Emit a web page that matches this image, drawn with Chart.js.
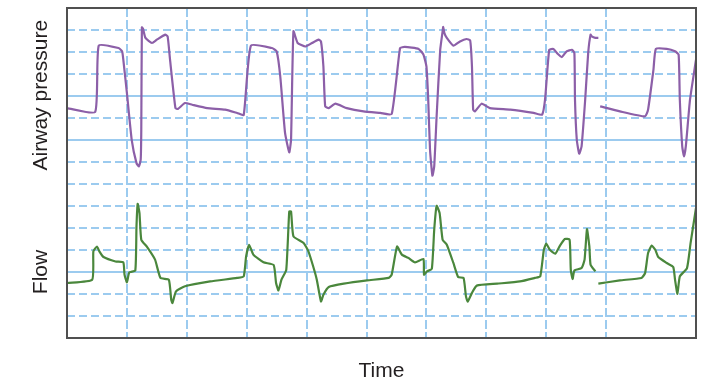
<!DOCTYPE html>
<html>
<head>
<meta charset="utf-8">
<script src="https://cdn.jsdelivr.net/npm/chart.js@4/dist/chart.umd.min.js"></script>
<style>
body{margin:0;background:#fff}
#wrap{width:714px;height:387px}
</style>
</head>
<body>
<div id="wrap"><canvas id="myChart" width="714" height="387"></canvas></div>
<script>
'use strict'
// time in grid divisions, signal in grid divisions (no units on the original)
let pressureTime=[0,0.47,0.53,0.86,0.92,0.94,1.00,1.08,1.16,1.20,1.23,1.24,1.25,1.27,1.31,1.42,1.50,1.64,1.68,1.72,1.81,1.85,1.97,2.09,2.34,2.64,2.84,2.95,
  3.07,3.42,3.50,3.56,3.64,3.71,3.74,3.78,3.85,3.98,4.09,4.20,4.24,4.28,4.31,4.37,4.48,4.67,4.95,5.23,5.42,
  5.56,5.64,5.87,5.95,6.00,6.03,6.06,6.10,6.13,6.17,6.23,6.27,6.28,6.30,6.34,6.45,6.56,6.67,6.73,6.76,6.78,6.81,6.92,7.06,7.40,7.79,7.93,
  7.98,8.05,8.12,8.19,8.26,8.34,8.43,8.47,8.48,8.51,8.55,8.59,8.65,8.70,8.74,8.76,8.82,8.87,8.885,
  8.90,9.23,9.65,9.70,9.79,9.83,10.01,10.15,10.21,10.23,10.27,10.30,10.33,10.40,10.50]
let pressureValue=[10.45,10.27,13.29,13.18,13.03,12.65,11.14,9.01,7.95,7.80,8.10,9.47,14.12,14.05,13.64,13.41,13.56,13.79,13.71,12.65,10.45,10.41,10.68,10.60,10.45,10.38,10.23,10.14,
  13.29,13.18,13.03,11.89,9.32,8.44,9.01,13.94,13.41,13.25,13.41,13.56,13.48,12.35,10.53,10.45,10.65,10.45,10.30,10.23,10.18,
  13.18,13.23,13.14,12.88,12.35,10.83,8.56,7.38,7.80,10.07,13.10,13.94,14.14,13.86,13.64,13.29,13.48,13.59,13.53,12.35,10.38,10.30,10.65,10.45,10.38,10.23,10.15,
  10.83,13.10,13.14,12.92,12.77,13.03,13.10,12.95,10.83,9.01,8.38,8.71,10.83,12.95,13.79,13.71,13.64,13.64,null,
  10.53,10.30,10.07,10.38,12.20,13.14,13.14,13.03,12.88,10.83,8.71,8.25,8.71,10.83,12.65]

let flowTime=[0,0.42,0.44,0.50,0.54,0.61,0.81,0.94,0.96,1.00,1.04,1.14,1.16,1.18,1.21,1.24,1.33,1.47,1.56,1.70,1.74,1.76,1.82,1.97,2.39,2.84,
  2.95,2.99,3.04,3.11,3.28,3.45,3.49,3.53,3.58,3.66,3.71,3.74,3.78,3.95,4.03,4.11,4.17,4.24,4.28,4.37,4.62,5.01,5.37,
  5.42,5.51,5.59,5.70,5.81,5.95,5.96,6.01,6.09,6.13,6.17,6.22,6.27,6.34,6.45,6.53,6.62,6.66,6.69,6.76,6.84,7.18,7.56,7.81,
  7.90,7.96,8.00,8.06,8.15,8.23,8.31,8.39,8.41,8.44,8.47,8.59,8.64,8.68,8.72,8.74,8.82,8.845,
  8.87,9.23,9.59,9.65,9.70,9.76,9.82,9.87,10.01,10.12,10.15,10.19,10.23,10.35,10.41,10.50]
let flowValue=[2.50,2.65,3.94,4.16,3.94,3.68,3.48,3.44,2.88,2.53,2.98,3.07,5.07,6.10,5.68,4.47,4.16,3.56,2.73,2.65,1.74,1.59,2.12,2.35,2.57,2.73,
  2.80,3.71,4.24,3.79,3.44,3.32,2.50,2.16,2.65,3.10,5.75,5.75,4.62,4.32,3.94,3.25,2.65,1.66,1.97,2.32,2.47,2.62,2.73,
  2.88,4.16,3.79,3.64,3.44,3.59,2.88,3.03,3.14,4.92,6.01,5.68,4.47,4.24,3.41,2.77,2.73,1.89,1.66,2.05,2.38,2.47,2.57,2.73,
  2.80,4.01,4.29,4.01,3.83,4.20,4.50,4.47,3.10,2.68,3.07,3.18,3.56,4.95,4.16,3.33,3.03,null,
  2.47,2.62,2.73,2.95,3.86,4.20,4.01,3.68,3.41,3.23,2.65,2.01,2.80,3.18,4.32,5.91]

let solidRows=[3,9,11]
let axisLabels={y1:'Airway pressure',y2:'Flow',x:'Time'}

function pts(t,v){
  let out=[]
  for(let i=0;i<t.length;i++) out.push({x:t[i],y:v[i]})
  return out
}

let gridBlue='#9ccbef'

let framePlugin={
  id:'frame',
  afterDraw(chart){
    let c=chart.ctx
    let a=chart.chartArea
    c.save()
    c.strokeStyle='#505050'
    c.lineWidth=2
    c.strokeRect(a.left,a.top,a.right-a.left,a.bottom-a.top)
    c.fillStyle='#231f20'
    c.font='21px "Liberation Sans", Arial, sans-serif'
    c.textAlign='center'
    c.textBaseline='alphabetic'
    c.fillText(axisLabels.x,(a.left+a.right)/2,377)
    let ys=chart.scales.y
    c.translate(47,ys.getPixelForValue(11.04))
    c.rotate(-Math.PI/2)
    c.fillText(axisLabels.y1,0,0)
    c.restore()
    c.save()
    c.fillStyle='#231f20'
    c.font='21px "Liberation Sans", Arial, sans-serif'
    c.textAlign='center'
    c.translate(47,ys.getPixelForValue(3.0))
    c.rotate(-Math.PI/2)
    c.fillText(axisLabels.y2,0,0)
    c.restore()
  }
}

let ctx=document.getElementById('myChart').getContext('2d')
let myChart=new Chart(ctx,{
  type:'line',
  data:{
    datasets:[{
      label:'Airway pressure',
      data:pts(pressureTime,pressureValue),
      borderColor:'#8c5fa8',
      borderWidth:2.2,
      pointRadius:0,
      tension:0.15,
      borderJoinStyle:'round',
      spanGaps:false
    },{
      label:'Flow',
      data:pts(flowTime,flowValue),
      borderColor:'#4a873c',
      borderWidth:2.2,
      pointRadius:0,
      tension:0.15,
      borderJoinStyle:'round',
      spanGaps:false
    }]
  },
  options:{
    responsive:false,
    animation:false,
    layout:{padding:{left:67,top:8,right:18,bottom:49}},
    plugins:{legend:{display:false},tooltip:{enabled:false}},
    scales:{
      x:{
        type:'linear',min:0,max:10.5,
        ticks:{display:false,stepSize:1},
        grid:{color:gridBlue,lineWidth:2,drawTicks:false},
        border:{display:false,dash:[9,3]}
      },
      y:{
        min:0,max:15,
        ticks:{display:false,stepSize:1},
        grid:{color:gridBlue,lineWidth:2,drawTicks:false},
        border:{display:false,dash:function(c){return solidRows.includes(c.tick.value)?[]:[8,4]}}
      }
    }
  },
  plugins:[framePlugin]
})
</script>
</body>
</html>
